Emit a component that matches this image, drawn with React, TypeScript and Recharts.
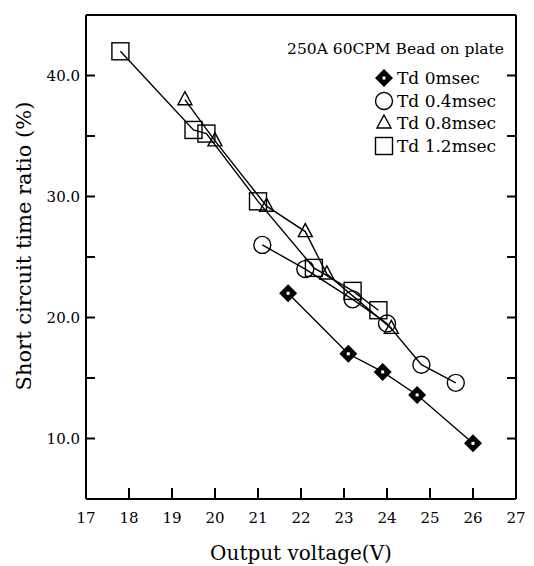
import { ScatterChart, Scatter, XAxis, YAxis, Legend, Label } from "recharts";

// Td 0 msec
const td0Voltage = [21.7, 23.1, 23.9, 24.7, 26.0];
const td0Ratio = [22.0, 17.0, 15.5, 13.6, 9.6];
// Td 0.4 msec
const td04Voltage = [21.1, 22.1, 23.2, 24.0, 24.8, 25.6];
const td04Ratio = [26.0, 24.0, 21.5, 19.5, 16.1, 14.6];
// Td 0.8 msec
const td08Voltage = [19.3, 20.0, 21.2, 22.1, 22.6, 24.1];
const td08Ratio = [38.0, 34.6, 29.2, 27.1, 23.6, 19.1];
// Td 1.2 msec
const td12Voltage = [17.8, 19.5, 19.8, 21.0, 22.3, 23.2, 23.8];
const td12Ratio = [42.0, 35.5, 35.2, 29.6, 24.1, 22.2, 20.6];

const seriesNames = ["Td 0msec", "Td 0.4msec", "Td 0.8msec", "Td 1.2msec"];
const markerKinds = ["diamond", "circle", "triangle", "square"];
const xMajorTicks = [17, 18, 19, 20, 21, 22, 23, 24, 25, 26, 27];
const xMinorTicks = [17.5, 18.5, 19.5, 20.5, 21.5, 22.5, 23.5, 24.5, 25.5, 26.5];
const yTicks = [10, 15, 20, 25, 30, 35, 40];
const chartTitle = "250A 60CPM Bead on plate";

const FONT = "'DejaVu Serif', serif";
const AXIS = { stroke: "#000", strokeWidth: 2 };

const toRows = (xs: number[], ys: number[]) => xs.map((x, i) => ({ x, y: ys[i] }));
const seriesData = [
  toRows(td0Voltage, td0Ratio),
  toRows(td04Voltage, td04Ratio),
  toRows(td08Voltage, td08Ratio),
  toRows(td12Voltage, td12Ratio),
];

function Marker({ kind, cx, cy }: { kind: string; cx: number; cy: number }) {
  if (kind === "diamond") {
    return (
      <g>
        <path d={`M${cx},${cy - 9}L${cx + 9},${cy}L${cx},${cy + 9}L${cx - 9},${cy}Z`} fill="#000" />
        <rect x={cx - 1.5} y={cy - 1.5} width={3} height={3} fill="#fff" />
      </g>
    );
  }
  if (kind === "circle") {
    return <circle cx={cx} cy={cy} r={8.5} fill="none" stroke="#000" strokeWidth={1.4} />;
  }
  if (kind === "triangle") {
    return (
      <path
        d={`M${cx},${cy - 8}L${cx + 7},${cy + 5}L${cx - 7},${cy + 5}Z`}
        fill="none"
        stroke="#000"
        strokeWidth={1.4}
      />
    );
  }
  return <rect x={cx - 8.5} y={cy - 8.5} width={17} height={17} fill="none" stroke="#000" strokeWidth={1.4} />;
}

const blank = () => "";

const renderLegend = (props: any) => {
  const payload = [...(props.payload || [])].sort(
    (a: any, b: any) => seriesNames.indexOf(a.value) - seriesNames.indexOf(b.value)
  );
  return (
    <div style={{ fontFamily: FONT, color: "#000", width: 228 }}>
      <div style={{ fontSize: 15.5, lineHeight: "20px", textAlign: "right", whiteSpace: "nowrap", marginBottom: 8 }}>
        {chartTitle}
      </div>
      {payload.map((entry: any, i: number) => {
        const idx = seriesNames.indexOf(entry.value);
        return (
          <div key={i} style={{ display: "flex", alignItems: "center", height: 22.5, paddingLeft: 98 }}>
            <svg width={20} height={20} style={{ display: "block" }}>
              <Marker kind={markerKinds[idx]} cx={10} cy={10} />
            </svg>
            <span style={{ fontSize: 17, marginLeft: 3, whiteSpace: "nowrap" }}>{entry.value}</span>
          </div>
        );
      })}
    </div>
  );
};

export default function App() {
  return (
    <div style={{ position: "absolute", left: 0, top: 0 }}>
      <ScatterChart width={534} height={566} margin={{ top: 0, right: 0, bottom: 0, left: 0 }}>
        {/* minor x ticks first so they hug the plot edge */}
        <XAxis
          xAxisId="bm"
          type="number"
          domain={[17, 27]}
          ticks={xMinorTicks}
          interval={0}
          allowDataOverflow
          height={1}
          tickSize={-6}
          axisLine={false}
          tickLine={AXIS}
          tickFormatter={blank}
        />
        <XAxis
          xAxisId="b"
          type="number"
          dataKey="x"
          domain={[17, 27]}
          ticks={xMajorTicks}
          interval={0}
          allowDataOverflow
          height={66}
          tickSize={-11}
          tickMargin={24}
          tickLine={AXIS}
          axisLine={AXIS}
          tick={{ fontFamily: FONT, fontSize: 15, fill: "#000" }}
        >
          <Label
            content={({ viewBox }: any) => (
              <text
                x={viewBox.x + viewBox.width / 2}
                y={viewBox.y + 61}
                textAnchor="middle"
                fontFamily={FONT}
                fontSize={20}
                fill="#000"
              >
                Output voltage(V)
              </text>
            )}
          />
        </XAxis>
        <XAxis
          xAxisId="tm"
          orientation="top"
          type="number"
          domain={[17, 27]}
          ticks={xMinorTicks}
          interval={0}
          allowDataOverflow
          height={1}
          tickSize={-6}
          axisLine={false}
          tickLine={AXIS}
          tickFormatter={blank}
        />
        <XAxis
          xAxisId="t"
          orientation="top"
          type="number"
          domain={[17, 27]}
          ticks={xMajorTicks}
          interval={0}
          allowDataOverflow
          height={14}
          tickSize={-11}
          axisLine={AXIS}
          tickLine={AXIS}
          tickFormatter={blank}
        />
        <YAxis
          yAxisId="l"
          type="number"
          dataKey="y"
          domain={[5, 45]}
          ticks={yTicks}
          interval={0}
          allowDataOverflow
          width={86}
          tickSize={-9}
          tickMargin={15}
          tickLine={AXIS}
          axisLine={AXIS}
          tickFormatter={(v: number) => (v % 10 === 0 ? v.toFixed(1) : "")}
          tick={{ fontFamily: FONT, fontSize: 15, fill: "#000" }}
        >
          <Label
            content={({ viewBox }: any) => {
              const cx = 24;
              const cy = viewBox.y + viewBox.height / 2 - 11;
              return (
                <text
                  x={cx}
                  y={cy}
                  dy={7}
                  transform={`rotate(-90, ${cx}, ${cy})`}
                  textAnchor="middle"
                  fontFamily={FONT}
                  fontSize={21}
                  fill="#000"
                >
                  Short circuit time ratio (%)
                </text>
              );
            }}
          />
        </YAxis>
        <YAxis
          yAxisId="r"
          orientation="right"
          type="number"
          domain={[5, 45]}
          ticks={yTicks}
          interval={0}
          allowDataOverflow
          width={18}
          tickSize={-9}
          tickLine={AXIS}
          axisLine={AXIS}
          tickFormatter={blank}
        />
        <Legend
          layout="vertical"
          align="center"
          verticalAlign="middle"
          content={renderLegend}
          wrapperStyle={{ left: 276, top: 39, width: 228 }}
        />
        {seriesData.map((rows, i) => (
          <Scatter
            key={seriesNames[i]}
            name={seriesNames[i]}
            data={rows}
            xAxisId="b"
            yAxisId="l"
            line={{ stroke: "#000", strokeWidth: 1.4 }}
            shape={(p: any) => <Marker kind={markerKinds[i]} cx={p.cx} cy={p.cy} />}
            isAnimationActive={false}
          />
        ))}
      </ScatterChart>
    </div>
  );
}
